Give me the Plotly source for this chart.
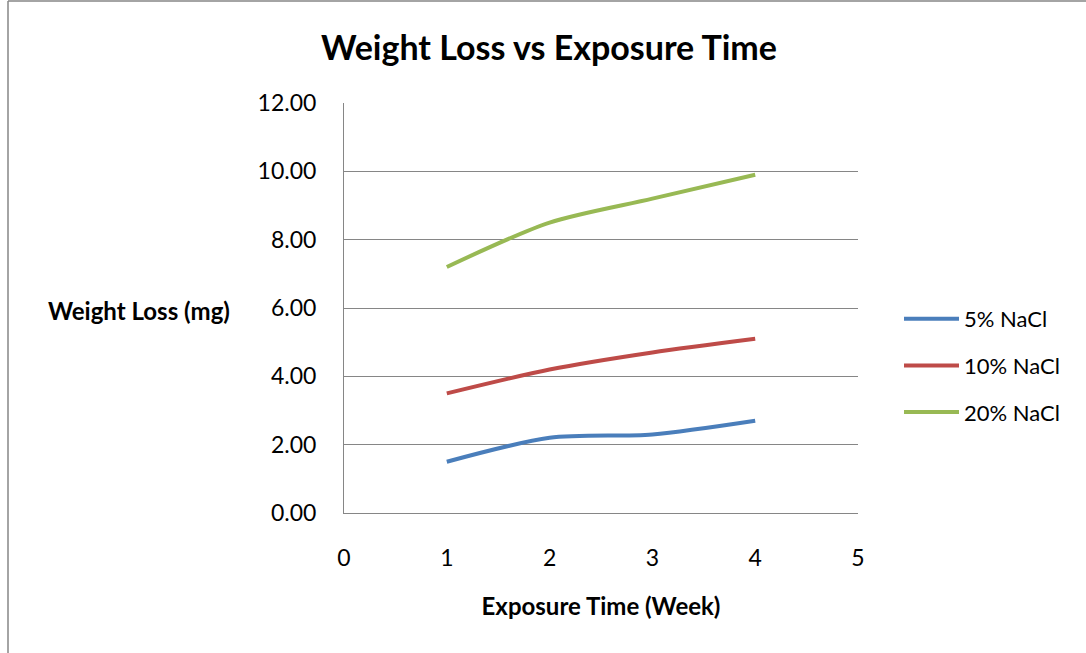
import plotly.graph_objects as go

weeks = [1, 2, 3, 4]
series_names = ["5% NaCl", "10% NaCl", "20% NaCl"]
loss_5 = [1.5, 2.2, 2.3, 2.7]
loss_10 = [3.5, 4.2, 4.7, 5.1]
loss_20 = [7.2, 8.5, 9.2, 9.9]
colors = ["#4A7EBB", "#BE4B48", "#98B954"]
y_ticks = [0, 2, 4, 6, 8, 10, 12]
x_ticks = [0, 1, 2, 3, 4, 5]

FONT = "Lato, Carlito, 'Liberation Sans', sans-serif"

fig = go.Figure()
for name, vals, c in zip(series_names, [loss_5, loss_10, loss_20], colors):
    fig.add_trace(go.Scatter(x=weeks, y=vals, name=name, mode="lines", legendgroup=name,
                             line=dict(color=c, width=4, shape="spline", smoothing=0.8)))

W, H = 1086, 653
ml, mr, mt, mb = 344, 228, 103, 140
pw, ph = W - ml - mr, H - mt - mb

def px_x(p):
    return (p - ml) / pw

def px_y(p):
    return (H - mb - p) / ph

fig.update_layout(
    width=W, height=H,
    margin=dict(l=ml, r=mr, t=mt, b=mb, pad=0),
    paper_bgcolor="white", plot_bgcolor="white",
    font=dict(family=FONT, color="black", size=23),
    title=dict(text="<b>Weight Loss vs Exposure Time</b>", x=549 / W, xanchor="center",
               y=1 - 48 / H, yanchor="middle", font=dict(size=34, family=FONT)),
    xaxis=dict(range=[0, 5], tickvals=x_ticks, ticktext=[str(v) for v in x_ticks],
               showgrid=False, zeroline=False, showline=True, linecolor="#868686", linewidth=1,
               ticks="", ticklabelstandoff=24, tickfont=dict(size=23),
               title=dict(text="<b>Exposure Time (Week)</b>", font=dict(size=24), standoff=28)),
    yaxis=dict(range=[0, 12], tickvals=y_ticks, ticktext=[f"{v:.2f}" for v in y_ticks],
               showgrid=True, gridcolor="#868686", gridwidth=1, zeroline=False,
               showline=True, linecolor="#868686", linewidth=1, ticks="",
               ticklabelstandoff=22, tickfont=dict(size=23)),
    legend=dict(x=px_x(899), y=px_y(298), xanchor="left", yanchor="top",
                font=dict(size=22), tracegroupgap=15, itemwidth=55,
                bgcolor="rgba(0,0,0,0)"),
    showlegend=True,
)

fig.add_annotation(text="<b>Weight Loss (mg)</b>", xref="paper", yref="paper",
                   x=px_x(139), y=px_y(310), showarrow=False, xanchor="center", yanchor="middle",
                   font=dict(size=24, family=FONT))

# chart frame (top and left edges)
fig.add_shape(type="line", xref="paper", yref="paper", x0=px_x(8), y0=px_y(1), x1=px_x(1090), y1=px_y(1),
              line=dict(color="#868686", width=1.5))
fig.add_shape(type="line", xref="paper", yref="paper", x0=px_x(8), y0=px_y(1), x1=px_x(8), y1=px_y(660),
              line=dict(color="#868686", width=1.5))

fig.write_html("out.html", post_script="document.body.style.margin='0';",
               config={"displayModeBar": False})
